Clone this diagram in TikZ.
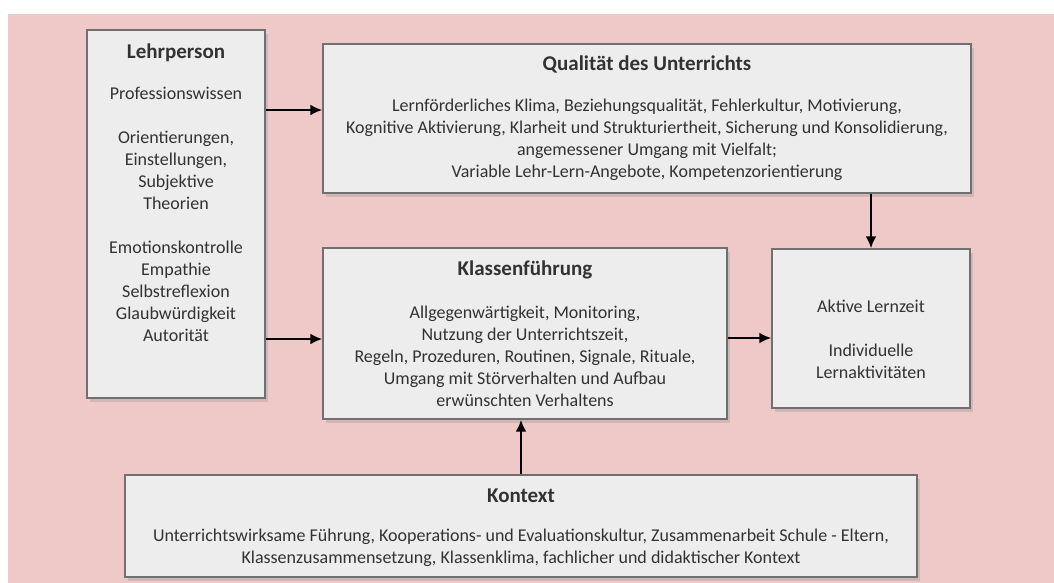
\documentclass[tikz,border=0pt]{standalone}
\usepackage{fontspec}
\setmainfont{Carlito}
\usepackage{xcolor}
\usetikzlibrary{positioning,arrows.meta,shadows,calc}
\definecolor{pagebg}{RGB}{238,201,200}
\definecolor{boxbg}{RGB}{237,237,237}
\definecolor{boxline}{RGB}{112,112,112}
\definecolor{ink}{RGB}{50,50,50}

\begin{document}
\begin{tikzpicture}[x=1pt,y=-1pt,
  box/.style={draw=boxline,line width=1.4pt,fill=boxbg,inner sep=0pt,
    drop shadow={shadow xshift=3pt,shadow yshift=-4pt,opacity=.25}},
  head/.style={text=ink,inner sep=0pt,font=\fontsize{21}{25}\selectfont\bfseries},
  body/.style={text=ink,align=center,inner sep=0pt,font=\fontsize{18}{22}\selectfont},
  link/.style={->,line width=2.8pt},
  >={Latex[length=12pt,width=11pt]} ]
  \useasboundingbox (0,0) rectangle (1054,583);
  \fill[pagebg] (8,14) rectangle (1054,583);

  \node[box,minimum width=178pt,minimum height=368pt] (lehr) at (176,214) {};
  \node[box,minimum width=648pt,minimum height=149pt] (qual) at (647,118.5) {};
  \node[box,minimum width=404pt,minimum height=171pt] (klass) at (525,333.5) {};
  \node[box,minimum width=198pt,minimum height=159pt] (aktiv) at (871,328.5) {};
  \node[box,minimum width=792pt,minimum height=102pt] (kontext) at (521,526) {};

  \node[head] (lehr-t) at ([yshift=-23pt]lehr.north) {Lehrperson};
  \node[body,anchor=north] (lehr-b) at ([yshift=-58pt]lehr.north)
    {Professionswissen\\[22pt] Orientierungen,\\ Einstellungen,\\ Subjektive\\ Theorien\\[22pt]
     Emotionskontrolle\\ Empathie\\ Selbstreflexion\\ Glaubwürdigkeit\\ Autorität};

  \node[head] (qual-t) at ([yshift=-21pt]qual.north) {Qualität des Unterrichts};
  \node[body,anchor=north] (qual-b) at ([yshift=-56pt]qual.north)
    {Lernförderliches Klima, Beziehungsqualität, Fehlerkultur, Motivierung,\\
     Kognitive Aktivierung, Klarheit und Strukturiertheit, Sicherung und Konsolidierung,\\
     angemessener Umgang mit Vielfalt;\\ Variable Lehr-Lern-Angebote, Kompetenzorientierung};

  \node[head] (klass-t) at ([yshift=-23pt]klass.north) {Klassenführung};
  \node[body,anchor=north] (klass-b) at ([yshift=-58pt]klass.north)
    {Allgegenwärtigkeit, Monitoring,\\ Nutzung der Unterrichtszeit,\\
     Regeln, Prozeduren, Routinen, Signale, Rituale,\\ Umgang mit Störverhalten und Aufbau\\
     erwünschten Verhaltens};

  \node[body] (aktiv-b) at ([yshift=-11pt]aktiv.center)
    {Aktive Lernzeit\\[22pt] Individuelle\\ Lernaktivitäten};

  \node[head] (kontext-t) at ([yshift=-21pt]kontext.north) {Kontext};
  \node[body,anchor=north] (kontext-b) at ([yshift=-54pt]kontext.north)
    {Unterrichtswirksame Führung, Kooperations- und Evaluationskultur, Zusammenarbeit Schule - Eltern,\\
     Klassenzusammensetzung, Klassenklima, fachlicher und didaktischer Kontext};

  \draw[link] (lehr.east |- 0,110) -- (qual.west |- 0,110);
  \draw[link] (lehr.east |- 0,339) -- (klass.west |- 0,339);
  \draw[link] (klass.east |- 0,338) -- (aktiv.west |- 0,338);
  \draw[link] (qual.south -| aktiv.north) -- (aktiv.north);
  \draw[link] (kontext.north) -- (kontext.north |- klass.south);
\end{tikzpicture}
\end{document}
